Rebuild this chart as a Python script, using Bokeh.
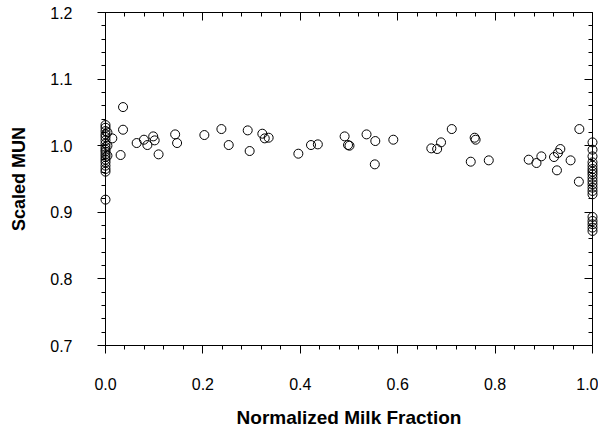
from bokeh.plotting import figure
from bokeh.models import Range1d, LinearAxis, FixedTicker, PrintfTickFormatter, ColumnDataSource
from bokeh.embed import file_html
from bokeh.resources import INLINE

# --- data ---
milk_fraction = [
    0.000, 0.000, 0.000, 0.000, 0.000, 0.000, 0.000, 0.000, 0.000, 0.000,
    0.000, 0.000, 0.000, 0.000, 0.000, 0.000, 0.000, 0.000, 0.004, 0.004,
    0.004,
    0.014, 0.036, 0.036, 0.031, 0.064, 0.079, 0.086, 0.098, 0.101, 0.109,
    0.143, 0.147, 0.203, 0.238, 0.253, 0.292, 0.296, 0.322, 0.327, 0.335,
    0.396, 0.422, 0.436, 0.491, 0.498, 0.501, 0.536, 0.554, 0.553, 0.591,
    0.669, 0.681, 0.689, 0.711, 0.758, 0.760, 0.750, 0.787, 0.869, 0.885,
    0.895, 0.921, 0.929, 0.934, 0.927, 0.955, 0.973, 0.972,
    1.000, 1.000, 1.000, 1.000, 1.000, 1.000, 1.000, 1.000, 1.000, 1.000,
    1.000, 1.000, 1.000, 1.000, 1.000, 1.000, 1.000, 1.000, 1.000,
]
scaled_mun = [
    1.031, 1.027, 1.022, 1.017, 1.013, 1.008, 1.003, 0.998, 0.994, 0.991,
    0.987, 0.983, 0.979, 0.975, 0.970, 0.965, 0.961, 0.919, 1.020, 1.000,
    0.985,
    1.011, 1.058, 1.024, 0.986, 1.004, 1.009, 1.001, 1.014, 1.008, 0.987,
    1.017, 1.004, 1.016, 1.025, 1.001, 1.023, 0.992, 1.018, 1.011, 1.012,
    0.988, 1.001, 1.002, 1.014, 1.001, 1.000, 1.017, 1.007, 0.972, 1.009,
    0.996, 0.995, 1.005, 1.025, 1.012, 1.009, 0.976, 0.978, 0.979, 0.974,
    0.984, 0.983, 0.989, 0.995, 0.963, 0.978, 1.025, 0.946,
    1.005, 0.994, 0.984, 0.975, 0.970, 0.965, 0.961, 0.957, 0.952, 0.947,
    0.942, 0.937, 0.932, 0.927, 0.893, 0.887, 0.882, 0.877, 0.872,
]
x_ticks = [0.0, 0.2, 0.4, 0.6, 0.8, 1.0]
y_ticks = [0.7, 0.8, 0.9, 1.0, 1.1, 1.2]
x_minor = [round(0.04 * i, 2) for i in range(26)]
y_minor = [round(0.7 + 0.02 * i, 2) for i in range(26)]
x_title = "Normalized Milk Fraction"
y_title = "Scaled MUN"

FONT = "Liberation Sans"

p = figure(frame_width=487, frame_height=333,
           x_range=Range1d(0, 1), y_range=Range1d(0.7, 1.2),
           output_backend="svg", toolbar_location=None,
           min_border_left=105, min_border_right=6, min_border_top=12, min_border_bottom=85)
p.outline_line_color = None
p.grid.visible = False
p.background_fill_color = "white"
p.border_fill_color = "white"

src = ColumnDataSource(dict(x=milk_fraction, y=scaled_mun))
r = p.scatter("x", "y", source=src, size=9, marker="circle",
              fill_color=None, line_color="black", line_width=1)
r.level = "overlay"

def style_main(ax, ticker):
    ax.ticker = ticker
    ax.formatter = PrintfTickFormatter(format="%.1f")
    ax.axis_line_color = "black"
    ax.axis_line_width = 1
    ax.major_tick_line_color = "black"
    ax.minor_tick_line_color = "black"
    ax.major_tick_in = 0
    ax.major_tick_out = 8
    ax.minor_tick_in = 0
    ax.minor_tick_out = 4
    ax.major_label_text_font = FONT
    ax.major_label_text_font_size = "16px"
    ax.major_label_text_color = "black"
    ax.axis_label_text_font = FONT
    ax.axis_label_text_font_style = "bold"
    ax.axis_label_text_font_size = "18px"
    ax.axis_label_text_color = "black"

def style_mirror(ax, ticker):
    ax.ticker = ticker
    ax.axis_line_color = "black"
    ax.axis_line_width = 1
    ax.major_tick_line_color = "black"
    ax.minor_tick_line_color = "black"
    ax.major_tick_in = 8
    ax.major_tick_out = 0
    ax.minor_tick_in = 4
    ax.minor_tick_out = 0
    ax.major_label_text_font_size = "1px"
    ax.major_label_text_color = None
    ax.major_label_standoff = 0

xb = p.xaxis[0]
style_main(xb, FixedTicker(ticks=x_ticks, minor_ticks=x_minor))
xb.axis_label = x_title
xb.axis_label_text_font_size = "19px"
xb.major_label_standoff = 24
xb.axis_label_standoff = 14

yl = p.yaxis[0]
style_main(yl, FixedTicker(ticks=y_ticks, minor_ticks=y_minor))
yl.axis_label = y_title
yl.major_label_standoff = 25
yl.axis_label_standoff = 18

xt = LinearAxis()
style_mirror(xt, FixedTicker(ticks=x_ticks, minor_ticks=x_minor))
p.add_layout(xt, "above")

yr = LinearAxis()
style_mirror(yr, FixedTicker(ticks=y_ticks, minor_ticks=y_minor))
p.add_layout(yr, "right")

open("out.html", "w").write(file_html(p, INLINE))
